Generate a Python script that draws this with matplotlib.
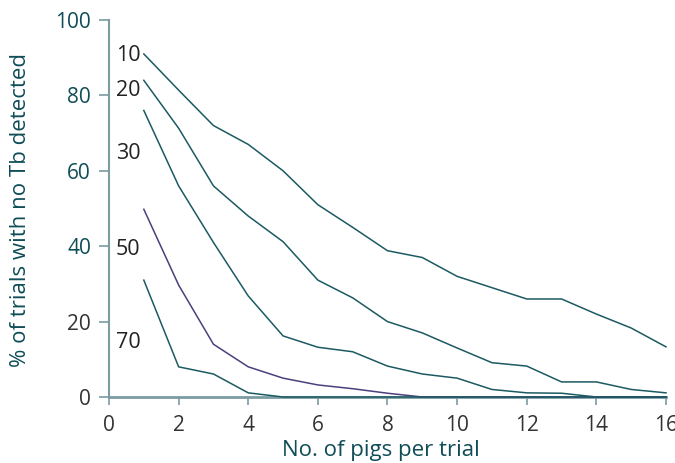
import matplotlib
matplotlib.use("Agg")
import matplotlib.pyplot as plt

pigs = list(range(1, 17))
series_labels = ["10", "20", "30", "50", "70"]
s10 = [91, 81.4, 72, 67, 60, 51, 45, 38.8, 37, 32, 29, 26, 26, 22, 18.3, 13.3]
s20 = [84, 71.3, 56, 48, 41.2, 31, 26.3, 20, 17, 13, 9.1, 8.2, 4, 4, 2, 1.1]
s30 = [76, 56, 41, 26.8, 16.2, 13.2, 12, 8.2, 6.1, 5, 2, 1.1, 1, 0, 0, 0]
s50 = [49.8, 29.7, 14, 8, 5, 3.2, 2.2, 1, 0, 0, 0, 0, 0, 0, 0, 0]
s70 = [31, 8, 6.1, 1.1, 0, 0, 0, 0, 0, 0, 0, 0, 0, 0, 0, 0]
label_y = [90.7, 81.4, 64.7, 39, 14.4]
x_ticks = [0, 2, 4, 6, 8, 10, 12, 14, 16]
y_ticks = [0, 20, 40, 60, 80, 100]

teal = "#1b5a62"
purple = "#4b3f7c"
spine = "#7a9ca2"
dark = "#333333"
lab = "#0f4d57"

plt.rcParams['font.family'] = ['Open Sans', 'DejaVu Sans']

fig = plt.figure(figsize=(6.75, 4.63), dpi=100)
ax = fig.add_axes([109/675, 1-397/463, (666-109)/675, (397-20)/463])

series = [s10, s20, s30, s50, s70]
colors = [teal, teal, teal, purple, teal]
for s, c in zip(series, colors):
    ax.plot(pigs, s, color=c, lw=1.1, solid_joinstyle='miter', zorder=3, clip_on=False)

for t, yv in zip(series_labels, label_y):
    ax.text(0.9, yv, t, ha='right', va='center', fontsize=15.5, color='#222222')

ax.set_xlim(0, 16)
ax.set_ylim(0, 100)
ax.set_xticks(x_ticks)
ax.set_yticks(y_ticks)
for side in ['top', 'right']:
    ax.spines[side].set_visible(False)
ax.spines['left'].set_color(spine)
ax.spines['bottom'].set_color(spine)
ax.spines['left'].set_linewidth(1.5)
ax.spines['bottom'].set_linewidth(2.0)
ax.tick_params(axis='both', direction='out', width=1.2, color=spine, labelsize=15)
ax.tick_params(axis='y', length=7, pad=6)
ax.tick_params(axis='x', length=6, pad=7, labelcolor=dark)
ylab_colors = [dark, dark, lab, lab, lab, lab]
for tl, c in zip(ax.get_yticklabels(), ylab_colors):
    tl.set_color(c)

ax.set_xlabel("No. of pigs per trial", fontsize=16, color=lab, labelpad=4)
ax.xaxis.set_label_coords(0.488, -0.115, transform=ax.transAxes)
ax.xaxis.label.set_va('top')
ax.set_ylabel("% of trials with no Tb detected", fontsize=16, color=lab)
ax.yaxis.set_label_coords(-0.158, 0.495, transform=ax.transAxes)
ax.yaxis.label.set_va('center')

fig.savefig("out.png", dpi=100)
